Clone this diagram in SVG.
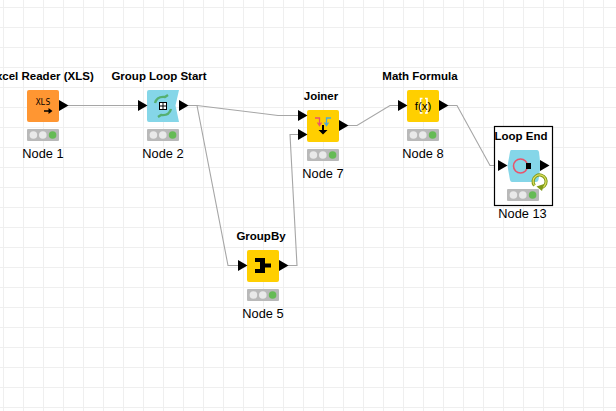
<svg xmlns="http://www.w3.org/2000/svg" width="616" height="411" viewBox="0 0 616 411">
<style>
.grid{stroke:#efefef;stroke-width:1;fill:none}
.conn{stroke:#a6a6a6;stroke-width:1.1;fill:none}
.title{font:bold 11.500px "Liberation Sans",Arial,sans-serif;fill:#000;text-anchor:middle}
.label{font:12.800px "Liberation Sans",Arial,sans-serif;fill:#000;text-anchor:middle}
.port{fill:#000}
.tray{fill:#b9b9b9}
.off{fill:#e9e9e9}
.ok{fill:#66bb55}
</style>
<defs>
<path id="port" class="port" d="M0-5.500L9.500 0L0 5.500Z"/>
<g id="lights">
<rect class="tray" width="32" height="12" rx="1"/>
<circle class="off" cx="6.400" cy="6" r="3.800"/>
<circle class="off" cx="15.800" cy="6" r="3.800"/>
<circle class="ok" cx="25.600" cy="6" r="3.800"/>
</g>
</defs>
<rect width="616" height="411" fill="#fff"/>
<path class="grid" d="M3.500 0V411M23.500 0V411M43.500 0V411M63.500 0V411M83.500 0V411M103.500 0V411M123.500 0V411M143.500 0V411M163.500 0V411M183.500 0V411M203.500 0V411M223.500 0V411M243.500 0V411M263.500 0V411M283.500 0V411M303.500 0V411M323.500 0V411M343.500 0V411M363.500 0V411M383.500 0V411M403.500 0V411M423.500 0V411M443.500 0V411M463.500 0V411M483.500 0V411M503.500 0V411M523.500 0V411M543.500 0V411M563.500 0V411M583.500 0V411M603.500 0V411M0 7.500H616M0 27.500H616M0 47.500H616M0 67.500H616M0 87.500H616M0 107.500H616M0 127.500H616M0 147.500H616M0 167.500H616M0 187.500H616M0 207.500H616M0 227.500H616M0 247.500H616M0 267.500H616M0 287.500H616M0 307.500H616M0 327.500H616M0 347.500H616M0 367.500H616M0 387.500H616M0 407.500H616"/>
<g id="connectors">
<path class="conn" d="M68 105.500H138"/>
<path class="conn" d="M188 105.500H197L278 115.500H298"/>
<path class="conn" d="M188 105.500H197L228 265.500H238"/>
<path class="conn" d="M288 265.500H297L290 134.500H298"/>
<path class="conn" d="M348 125.500H357L390 105.500H398"/>
<path class="conn" d="M448 105.500H457L490 165.500H498"/>
</g>
<g id="node1">
<text class="title" x="41" y="80">Excel Reader (XLS)</text>
<rect x="27" y="90" width="32" height="32" rx="2" fill="#ff9632"/>
<text x="43" y="105" font-family="DejaVu Sans Mono,monospace" font-size="8" text-anchor="middle">XLS</text>
<path d="M44 110.300H48.500V108L52.500 111L48.500 114V111.800H44Z" fill="#000"/>
<use href="#port" x="59" y="105.500"/>
<use href="#lights" x="27" y="129"/>
<text class="label" x="43" y="158">Node 1</text>
</g>
<g id="node2">
<text class="title" x="159" y="80">Group Loop Start</text>
<path d="M149 90H179L175.500 105.500L179 122H149Q147 122 147 120V92Q147 90 149 90Z" fill="#85d6e8"/>
<path d="M155 103Q157 96 165 97L168 95M171 109Q169 116 161 115L158 117" fill="none" stroke="#55b070" stroke-width="2.400"/>
<rect x="159.500" y="102.500" width="7" height="7" fill="#fff" stroke="#000"/>
<path d="M163 102.500V109.500M159.500 106H166.500" stroke="#000"/>
<use href="#port" x="138" y="105.500"/>
<use href="#port" x="179" y="105.500"/>
<use href="#lights" x="147" y="129"/>
<text class="label" x="163" y="158">Node 2</text>
</g>
<g id="node5">
<text class="title" x="261" y="240">GroupBy</text>
<rect x="247" y="250" width="32" height="32" rx="2" fill="#ffcf00"/>
<path d="M255 258H265V263.500H271V267.500H265V273H255V269H260V262H255Z" fill="#000"/>
<use href="#port" x="238" y="265.500"/>
<use href="#port" x="279" y="265.500"/>
<use href="#lights" x="247" y="289"/>
<text class="label" x="263" y="318">Node 5</text>
</g>
<g id="node7">
<text class="title" x="321" y="100">Joiner</text>
<rect x="307" y="110" width="32" height="32" rx="2" fill="#ffcf00"/>
<path d="M315 118H319.500V125M317.500 122.500L319.500 125.500L321.500 122.500" fill="none" stroke="#e8546c" stroke-width="1.300"/>
<path d="M331 118H326.500V125M324.500 122.500L326.500 125.500L328.500 122.500" fill="none" stroke="#4aa8dc" stroke-width="1.300"/>
<path d="M322 125H324V130H327.500L323 134.500L318.500 130H322Z" fill="#000"/>
<use href="#port" x="298" y="115.500"/>
<use href="#port" x="298" y="134.500"/>
<use href="#port" x="339" y="125.500"/>
<use href="#lights" x="307" y="149"/>
<text class="label" x="323" y="178">Node 7</text>
</g>
<g id="node8">
<text class="title" x="420" y="80">Math Formula</text>
<rect x="407" y="90" width="32" height="32" rx="2" fill="#ffcf00"/>
<path d="M422.500 98.500H420.500V113H422.500M425 98.500H427V113H425" fill="none" stroke="#fff" stroke-width="1.500"/>
<text x="423" y="110" font-family="Liberation Sans,Arial,sans-serif" font-size="11.500" text-anchor="middle">f(x)</text>
<use href="#port" x="398" y="105.500"/>
<use href="#port" x="439" y="105.500"/>
<use href="#lights" x="407" y="129"/>
<text class="label" x="423" y="158">Node 8</text>
</g>
<g id="node13">
<rect x="494.500" y="126.500" width="58" height="79" fill="#fff" stroke="#000" stroke-width="1.200"/>
<text class="title" x="521" y="140">Loop End</text>
<path d="M511 150H537Q538.500 150 539 152L540.500 166L538.500 180Q538 182 536 182H512Q510.500 182 510 180L507.500 166L510 152Q510.500 150 511 150Z" fill="#85d6e8"/>
<circle cx="520.500" cy="166" r="7" fill="none" stroke="#e8546c" stroke-width="1.600"/>
<rect x="526" y="163" width="5" height="6" fill="#000"/>
<use href="#port" x="498" y="165.500"/>
<use href="#port" x="540" y="165.500"/>
<use href="#lights" x="507" y="189"/>
<path d="M534.500 185.500A6.500 6.500 0 1 1 542 187.500" fill="none" stroke="#7f9a18" stroke-width="3.200"/>
<path d="M534.500 185.500A6.500 6.500 0 1 1 542 187.500" fill="none" stroke="#e0e060" stroke-width="1.200"/>
<path d="M544 184L542 191L536.500 186.500Z" fill="#7f9a18"/>
<text class="label" x="522.500" y="218">Node 13</text>
</g>
</svg>
